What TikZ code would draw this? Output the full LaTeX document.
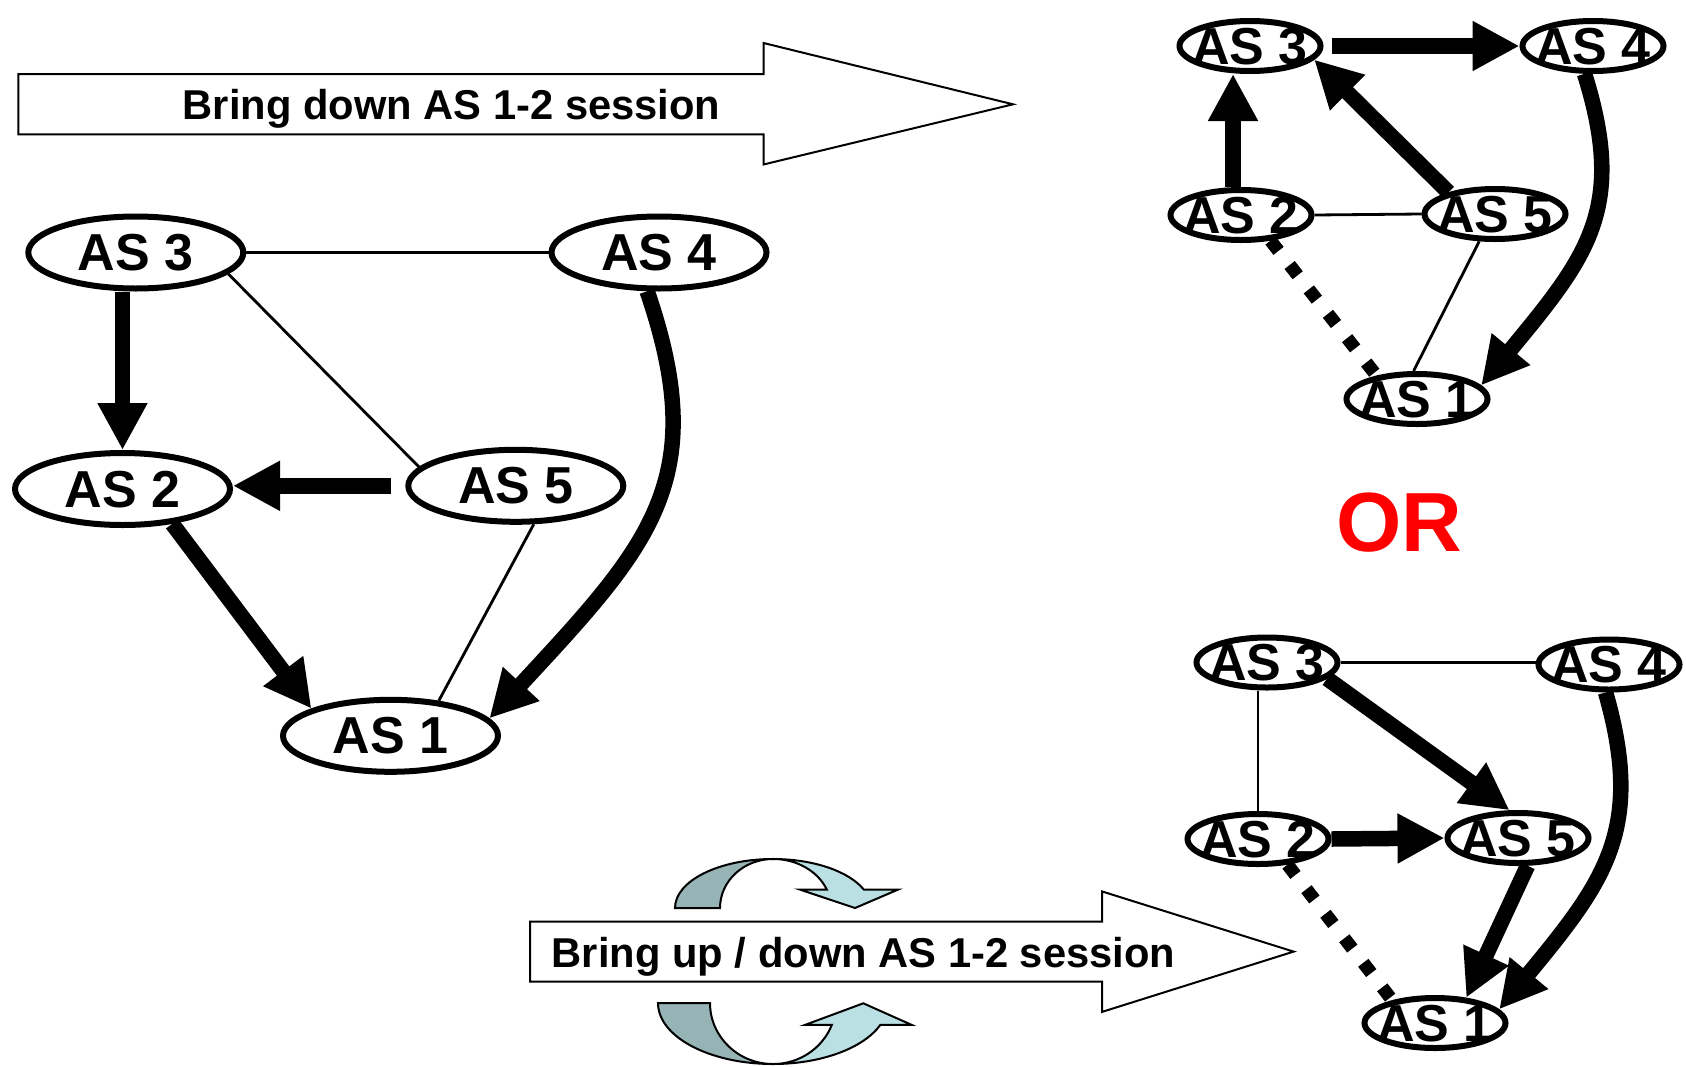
\documentclass[tikz,border=0pt]{standalone}
\usepackage{fontspec}
\setmainfont{Liberation Sans}
\usetikzlibrary{arrows.meta,shapes.geometric}
\definecolor{ringdark}{HTML}{96B3B5}
\definecolor{ringlight}{HTML}{BBE0E4}
\newcommand{\aslabel}[1]{\makebox[0pt]{\raisebox{-9pt}[0pt][0pt]{#1}}}

\begin{document}
\begin{tikzpicture}[x=0.5pt, y=-0.5pt,
    asnode/.style={draw, ellipse, line width=3pt, inner sep=0pt,
        font=\fontsize{26pt}{30pt}\selectfont\bfseries},
    big as/.style={asnode, minimum width=107.5pt, minimum height=36pt},
    small as/.style={asnode, minimum width=70.5pt, minimum height=25pt},
    thin link/.style={line width=1.4pt},
    thick arrow/.style={line width=7.75pt, -{Triangle[length=23.5pt, width=23.5pt]}},
    dotted link/.style={line width=6.5pt, dash pattern=on 6.5pt off 9pt},
    block arrow/.style={draw, line width=1pt},
    arrow text/.style={font=\fontsize{20.85pt}{24pt}\selectfont\bfseries, anchor=base},
    ring/.style={draw=black, line width=1pt},
]
    \useasboundingbox (0,0) rectangle (1686,1066);

    % Block arrows
    \draw[block arrow] (18.3,74.2) -- (763.5,74.2) -- (763.5,43) -- (1013,104.3)
        -- (763.5,164.5) -- (763.5,134.4) -- (18.3,134.4) -- cycle;
    \node[arrow text] (downtxt) at (451.6,119.2) {Bring down AS 1-2 session};

    \draw[block arrow] (530,921.5) -- (1102,921.5) -- (1102,891.4) -- (1293.6,951.6)
        -- (1102,1011.9) -- (1102,981.7) -- (530,981.7) -- cycle;
    \node[arrow text] (updowntxt) at (863.5,967.1) {Bring up / down AS 1-2 session};

    % Turning arrows
    \filldraw[ring, fill=ringdark] (675,908) arc[start angle=180, end angle=270, x radius=98, y radius=49]
        arc[start angle=270, end angle=180, x radius=53, y radius=49] -- cycle;
    \filldraw[ring, fill=ringlight] (773,859) arc[start angle=270, end angle=338, x radius=98, y radius=49]
        -- (898,889.6) -- (855,908) -- (800,889.6) -- (826.8,889.6)
        arc[start angle=338, end angle=270, x radius=58, y radius=49] -- cycle;

    \filldraw[ring, fill=ringdark] (658,1003) arc[start angle=180, end angle=90, x radius=115, y radius=61]
        arc[start angle=90, end angle=180, x radius=63, y radius=61] -- cycle;
    \filldraw[ring, fill=ringlight] (773,1064) arc[start angle=90, end angle=21, x radius=115, y radius=61]
        -- (911.7,1024.9) -- (863.3,1003.3) -- (805,1024.9) -- (831.8,1024.9)
        arc[start angle=21, end angle=90, x radius=63, y radius=61] -- cycle;

    % Before: left graph
    \node[big as] (l3) at (135.8,252.5) {\aslabel{AS 3}};
    \node[big as] (l4) at (659,252.5) {\aslabel{AS 4}};
    \node[big as] (l2) at (122.5,489) {\aslabel{AS 2}};
    \node[big as] (l5) at (515.8,485.8) {\aslabel{AS 5}};
    \node[big as] (l1) at (390.5,735.8) {\aslabel{AS 1}};

    \draw[thin link] (l3.east) -- (l4.west);
    \draw[thin link] (l3.-13) -- (l5.169);
    \draw[thin link] (l5.-65) -- (l1.36);
    \draw[thick arrow] (l2.north |- l3.south) -- (l2.north);
    \draw[thick arrow, shorten <=7pt] (l5.west) -- (l5.west -| l2.east);
    \draw[thick arrow] (l2.-35) -- (l1.161);
    \draw[thick arrow] (l4.-107) .. controls (712,480) and (650,545) .. (l1.10);

    % OR
    \node[font=\fontsize{42pt}{48pt}\selectfont\bfseries, text=red, anchor=base] (ortxt) at (1399,551) {OR};

    % After: top right graph
    \node[small as] (t3) at (1250,46) {\aslabel{AS 3}};
    \node[small as] (t4) at (1593,46) {\aslabel{AS 4}};
    \node[small as] (t2) at (1241,215) {\aslabel{AS 2}};
    \node[small as] (t5) at (1495,214) {\aslabel{AS 5}};
    \node[small as] (t1) at (1417,399) {\aslabel{AS 1}};

    \draw[thin link] (t2.east) -- (t5.west);
    \draw[thin link] (t5.240) -- (t1.97);
    \draw[dotted link] (t2.-41) -- (t1.150);
    \draw[thick arrow, shorten <=4pt] (t3.east) -- (t4.west);
    \draw[thick arrow] (t2.106) -- (t2.106 |- t3.south);
    \draw[thick arrow] (t5.155) -- (t3.-12);
    \draw[thick arrow] (t4.-107) .. controls (1627,209) and (1587,257) .. (t1.12);

    % After: bottom right graph
    \node[small as] (b3) at (1267,662.5) {\aslabel{AS 3}};
    \node[small as] (b4) at (1609,664.5) {\aslabel{AS 4}};
    \node[small as] (b2) at (1258,839) {\aslabel{AS 2}};
    \node[small as] (b5) at (1518,838) {\aslabel{AS 5}};
    \node[small as] (b1) at (1435,1023) {\aslabel{AS 1}};

    \draw[thin link] (b3.east) -- (b3.east -| b4.west);
    \draw[thin link] (b2.north |- b3.south) -- (b2.north);
    \draw[dotted link] (b2.-41) -- (b1.152);
    \draw[thick arrow] (b3.-15) -- (b5.107);
    \draw[thick arrow] (b2.east) -- (b5.west);
    \draw[thick arrow] (b5.-71) -- (b1.39);
    \draw[thick arrow] (b4.-97) .. controls (1645,830) and (1604,882) .. (b1.12);

\end{tikzpicture}
\end{document}
